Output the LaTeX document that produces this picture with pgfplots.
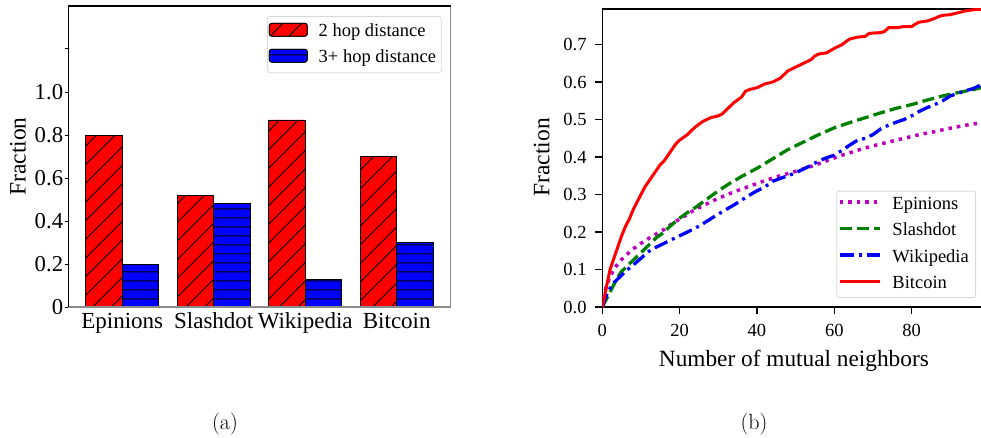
\documentclass[border=0pt]{standalone}
\usepackage{fontspec}
\usepackage{pgfplots}
\pgfplotsset{compat=1.18}
\usetikzlibrary{patterns,patterns.meta}
\newfontfamily\tnr{Liberation Serif}
\definecolor{mplgreen}{rgb}{0,0.5,0}
\definecolor{mplmagenta}{rgb}{0.75,0,0.75}

% horizontal hatch, one line per tile, kept away from the tile seams
\pgfdeclarepatternformonly{hlines}{\pgfqpoint{0pt}{0pt}}{\pgfqpoint{9pt}{9pt}}{\pgfqpoint{9pt}{9pt}}{%
  \pgfsetlinewidth{1pt}%
  \pgfpathmoveto{\pgfqpoint{-1pt}{4.5pt}}%
  \pgfpathlineto{\pgfqpoint{10pt}{4.5pt}}%
  \pgfusepath{stroke}}

\pgfplotstableread{
x y
0 0
1 0.05
2 0.10
3 0.13
4 0.16
5 0.19
6 0.215
7 0.235
8 0.26
9 0.28
10 0.30
11 0.32
12 0.335
13 0.35
14 0.365
15 0.38
16 0.39
17 0.405
18 0.42
19 0.435
20 0.445
22 0.46
24 0.48
26 0.495
28 0.505
30 0.51
31 0.515
32 0.525
34 0.545
36 0.56
37 0.575
38 0.58
40 0.585
42 0.595
44 0.60
46 0.61
47 0.62
48 0.63
50 0.64
52 0.65
54 0.66
55 0.67
56 0.675
58 0.678
60 0.69
62 0.70
63 0.708
64 0.715
66 0.72
68 0.722
69 0.73
72 0.732
73 0.735
74 0.745
76 0.745
78 0.748
80 0.748
81 0.755
82 0.76
84 0.763
86 0.77
87 0.775
88 0.778
90 0.78
92 0.785
94 0.79
96 0.793
99 0.795
}\bitcoin

\pgfplotstableread{
x y
0 0
1 0.02
2 0.04
3 0.06
4 0.08
5 0.095
6 0.105
7 0.115
8 0.125
10 0.145
12 0.165
14 0.185
16 0.20
18 0.22
20 0.237
22 0.252
24 0.265
26 0.28
28 0.295
30 0.31
33 0.33
36 0.348
40 0.37
44 0.395
48 0.42
52 0.44
56 0.46
60 0.478
64 0.492
68 0.505
72 0.518
76 0.53
80 0.54
84 0.552
88 0.563
92 0.572
96 0.58
99 0.588
}\slashdot

\pgfplotstableread{
x y
0 0
1 0.03
2 0.05
3 0.065
4 0.075
5 0.085
6 0.095
8 0.112
10 0.13
12 0.148
14 0.16
16 0.17
18 0.18
20 0.19
22 0.20
24 0.21
26 0.222
28 0.235
30 0.248
32 0.26
34 0.272
36 0.285
38 0.298
40 0.31
42 0.32
44 0.335
46 0.343
48 0.35
50 0.358
52 0.368
54 0.378
56 0.39
58 0.398
60 0.405
62 0.418
64 0.432
66 0.445
68 0.45
70 0.46
72 0.475
74 0.485
76 0.493
78 0.50
80 0.51
82 0.522
84 0.532
86 0.54
88 0.55
90 0.563
92 0.57
94 0.577
96 0.583
99 0.598
}\wikipedia

\pgfplotstableread{
x y
0 0
1 0.055
2 0.08
3 0.10
4 0.115
5 0.127
6 0.137
8 0.155
10 0.17
12 0.183
14 0.195
16 0.207
18 0.222
20 0.235
22 0.247
24 0.26
26 0.27
28 0.28
30 0.29
34 0.307
38 0.322
42 0.337
46 0.35
50 0.362
54 0.375
58 0.39
62 0.405
66 0.418
70 0.43
74 0.44
78 0.45
82 0.46
86 0.468
90 0.477
94 0.485
99 0.493
}\epinions

\begin{document}
\begin{tikzpicture}[x=1pt,y=1pt]
\useasboundingbox (0,0) rectangle (981,437);

% (a) fraction of pairs by hop distance
\begin{axis}[
  at={(68.3pt,130pt)}, anchor=south west, scale only axis,
  width=382.4pt, height=301pt,
  xmin=-0.59, xmax=3.59, ymin=0, ymax=1.4,
  xtick={0,1,2,3}, xticklabels={Epinions,Slashdot,Wikipedia,Bitcoin},
  ytick={0,0.2,0.4,0.6,0.8,1.0,1.2},
  yticklabels={0,0.2,0.4,0.6,0.8,1.0,{}},
  tick align=outside, xtick pos=bottom, ytick pos=left,
  major tick length=3.5pt,
  xtick style={draw=none},
  ytick style={line width=1pt, black},
  axis line style={draw=none},
  after end axis/.code={
    \draw[black!45, line width=1.2pt] (rel axis cs:0,0) -- (rel axis cs:1,0) -- (rel axis cs:1,1);
    \draw[black, line width=1.2pt] (rel axis cs:0,0) -- (rel axis cs:0,1) -- (rel axis cs:1,1);
  },
  /pgf/number format/assume math mode=true,
  xticklabel style={font=\tnr\fontsize{23}{23}\selectfont, anchor=base, inner sep=0pt, yshift=-18pt},
  yticklabel style={font=\tnr\fontsize{22.7}{22.7}\selectfont, anchor=east, inner sep=0pt, xshift=-1.5pt},
  every axis y label/.style={at={(axis description cs:-0.1315,0.5)}, rotate=90, anchor=center,
    font=\tnr\fontsize{23.5}{23.5}\selectfont},
  ylabel={Fraction},
  legend style={at={(rel axis cs:1,1)}, anchor=north east, xshift=-9pt, yshift=-10pt,
    draw=black!15, rounded corners=2.5pt, line width=0.8pt,
    font=\tnr\fontsize{18.5}{18.5}\selectfont,
    inner xsep=1.3pt, inner ysep=6.5pt, row sep=8.5pt,
    nodes={inner xsep=4pt, inner ysep=0pt, text height=13pt, text depth=4pt},
    /tikz/every odd column/.style={column sep=7pt}},
  legend cell align=left,
  legend image code/.code={\draw[#1] (0pt,-4.5pt) rectangle (38pt,8.5pt);},
]
\addplot[ybar, bar width=0.4, bar shift=0pt, fill=red, draw=black, line width=0.8pt,
  postaction={pattern={Lines[angle=45,distance=13.2pt,line width=0.9pt]}, pattern color=black}]
  coordinates {(-0.2,0.80) (0.8,0.52) (1.8,0.87) (2.8,0.70)};
\addlegendentry{2 hop distance}
\addplot[ybar, bar width=0.4, bar shift=0pt, fill=blue, draw=black, line width=0.8pt,
  postaction={pattern=hlines, pattern color=black}]
  coordinates {(0.2,0.20) (1.2,0.48) (2.2,0.13) (3.2,0.30)};
\addlegendentry{3+ hop distance}
\end{axis}

% (b) fraction against number of mutual neighbors
\begin{axis}[
  at={(602.3pt,130pt)}, anchor=south west, scale only axis,
  width=383.2pt, height=298pt,
  xmin=0, xmax=99.1, ymin=0, ymax=0.795,
  xtick={0,20,40,60,80},
  ytick={0,0.1,0.2,0.3,0.4,0.5,0.6,0.7},
  yticklabels={0.0,0.1,0.2,0.3,0.4,0.5,0.6,0.7},
  tick align=outside, xtick pos=bottom, ytick pos=left,
  major tick length=7pt,
  tick style={line width=1.2pt, black},
  axis line style={line width=1.3pt},
  /pgf/number format/assume math mode=true,
  xticklabel style={font=\tnr\fontsize{18.5}{18.5}\selectfont, anchor=base, inner sep=0pt, yshift=-22pt},
  yticklabel style={font=\tnr\fontsize{18.5}{18.5}\selectfont, anchor=east, inner sep=0pt, xshift=-8.5pt},
  every axis y label/.style={at={(axis description cs:-0.158,0.502)}, rotate=90, anchor=center,
    font=\tnr\fontsize{23.5}{23.5}\selectfont},
  every axis x label/.style={at={(axis description cs:0.5,-0.2003)}, anchor=base,
    font=\tnr\fontsize{23.3}{23.3}\selectfont},
  ylabel={Fraction},
  xlabel={Number of mutual neighbors},
  legend style={at={(rel axis cs:1,0)}, anchor=south east, xshift=-9.5pt, yshift=9pt,
    draw=black!15, rounded corners=2.5pt, line width=0.8pt,
    font=\tnr\fontsize{18.5}{18.5}\selectfont,
    inner xsep=1.3pt, inner ysep=5pt, row sep=9.5pt,
    nodes={inner xsep=5.5pt, inner ysep=0pt, text height=13pt, text depth=4pt},
    /tikz/every odd column/.style={column sep=5.5pt}},
  legend cell align=left,
  legend image code/.code={\draw[#1] (0pt,2.5pt) -- (40pt,2.5pt);},
]
\addplot[mplmagenta, line width=3.5pt, dash pattern=on 3.5pt off 5pt] table {\epinions};
\addlegendentry{Epinions}
\addplot[mplgreen, line width=3.3pt, dash pattern=on 12pt off 5pt] table {\slashdot};
\addlegendentry{Slashdot}
\addplot[blue, line width=3.3pt, dash pattern=on 14pt off 5pt on 3pt off 5pt] table {\wikipedia};
\addlegendentry{Wikipedia}
\addplot[red, line width=3pt] table {\bitcoin};
\addlegendentry{Bitcoin}
\end{axis}

\node[anchor=base, font=\fontsize{22}{22}\selectfont, inner sep=0pt] at (225,7.3) {(a)};
\node[anchor=base, font=\fontsize{22}{22}\selectfont, inner sep=0pt] at (754,7.3) {(b)};
\end{tikzpicture}
\end{document}
